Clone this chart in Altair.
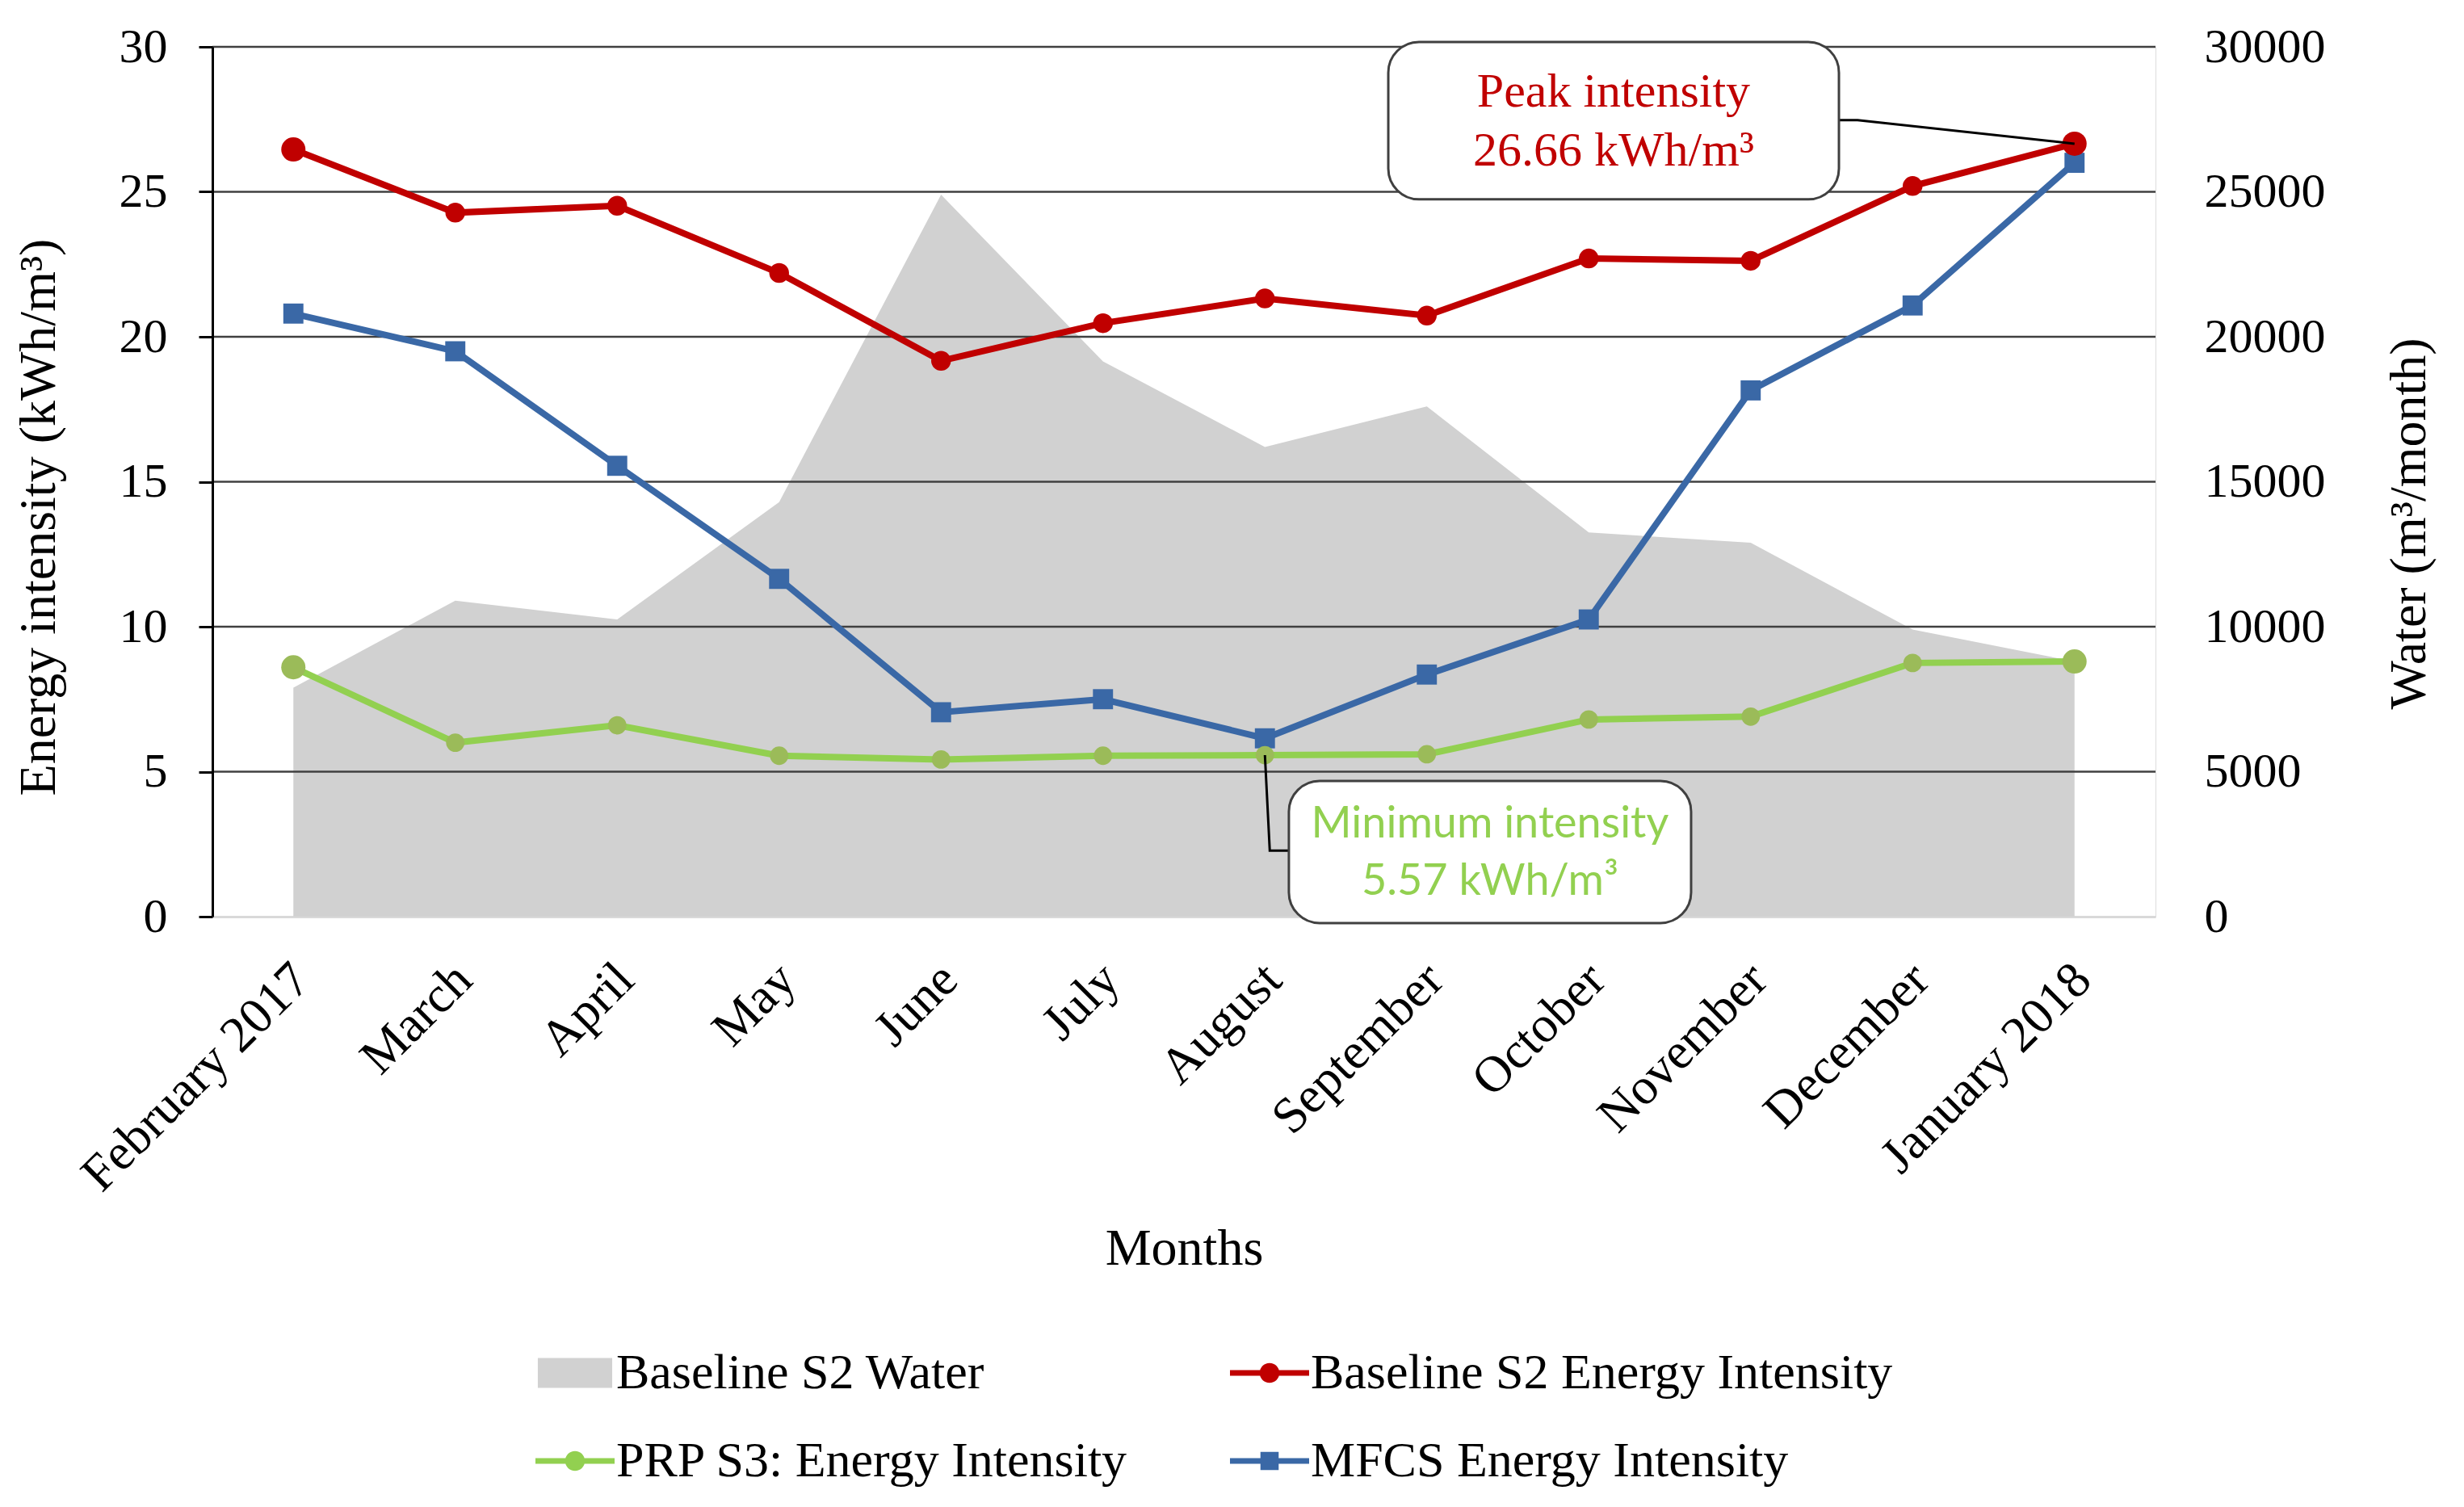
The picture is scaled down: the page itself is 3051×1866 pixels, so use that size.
import json
import altair as alt
import pandas as pd

# ---------------- data ----------------
MONTHS = ["February 2017", "March", "April", "May", "June", "July", "August",
          "September", "October", "November", "December", "January 2018"]
BASELINE_EI = [26.46, 24.28, 24.52, 22.2, 19.17, 20.47, 21.32, 20.73, 22.7, 22.62, 25.2, 26.66]
MFCS_EI = [20.8, 19.5, 15.55, 11.65, 7.05, 7.5, 6.15, 8.35, 10.25, 18.15, 21.08, 26.0]
PRP_EI = [8.6, 6.0, 6.6, 5.55, 5.42, 5.55, 5.57, 5.6, 6.8, 6.9, 8.75, 8.8]
WATER = [7900, 10900, 10250, 14300, 24900, 19150, 16200, 17600, 13250, 12900, 9900, 8800]

# legend entries (listed column by column: the legend fills its 2 columns top-down)
SERIES = ["Baseline S2 Water", "PRP S3: Energy Intensity",
          "Baseline S2 Energy Intensity", "MFCS Energy Intensity"]
COLORS = ["#d1d1d1", "#92d050", "#c00000", "#3a68a6"]
RED, GREEN, BLUE = "#c00000", "#92d050", "#3a68a6"
GREEN_MARKER = "#9bbb59"

LEFT_TICKS = [0, 5, 10, 15, 20, 25, 30]
RIGHT_TICKS = [0, 5000, 10000, 15000, 20000, 25000, 30000]
GRID_LINES = [5, 10, 15, 20, 25, 30]

PEAK_TEXT = ["Peak intensity", "26.66 kWh/m³"]
MIN_TEXT = ["Minimum intensity", "5.57 kWh/m³"]

# annotation geometry (data units: x = month index, y = energy intensity)
BOX_X = [6.762, 6.148]
BOX_X2 = [9.545, 8.632]
BOX_Y = [24.74, -0.22]
BOX_Y2 = [30.17, 4.68]
PEAK_TEXT_X = [8.153, 8.153]
PEAK_TEXT_Y = [27.94, 25.91]
MIN_TEXT_X = [7.39, 7.39]
MIN_TEXT_Y = [2.73, 0.75]
LEADER_X = [9.545, 9.66, 11.0, 6.0, 6.03, 6.148]
LEADER_Y = [27.47, 27.47, 26.66, 5.57, 2.28, 2.28]
LEADER_G = ["peak", "peak", "peak", "min", "min", "min"]

SERIF = "Liberation Serif"
SANS = "Lato"

idx = list(range(len(MONTHS)))
df_water = pd.DataFrame({"x": idx, "water": WATER, "series": SERIES[0]})
df_red = pd.DataFrame({"x": idx, "y": BASELINE_EI})
df_blue = pd.DataFrame({"x": idx, "y": MFCS_EI})
df_green = pd.DataFrame({"x": idx, "y": PRP_EI})
df_grid = pd.DataFrame({"x": [0] * len(GRID_LINES), "y": GRID_LINES})
df_box = pd.DataFrame({"x": BOX_X, "x2": BOX_X2, "y": BOX_Y, "y2": BOX_Y2})
df_peak = pd.DataFrame({"x": PEAK_TEXT_X, "y": PEAK_TEXT_Y, "t": PEAK_TEXT})
df_min = pd.DataFrame({"x": MIN_TEXT_X, "y": MIN_TEXT_Y, "t": MIN_TEXT})
df_lead = pd.DataFrame({"x": LEADER_X, "y": LEADER_Y, "g": LEADER_G,
                        "o": list(range(len(LEADER_X)))})
# legend-key rows (one per series), kept outside the plotting area and clipped
df_key = pd.DataFrame({"series": SERIES, "x": [0] * 4, "y": [-100] * 4})

xscale = alt.Scale(domain=[-0.5, len(MONTHS) - 0.5], nice=False, zero=False)
yscale = alt.Scale(domain=[0, 30], nice=False)
wscale = alt.Scale(domain=[0, 30000], nice=False)

x_axis = alt.Axis(
    values=idx, labelExpr=json.dumps(MONTHS) + "[datum.value]",
    labelAngle=315, labelAlign="right", labelBaseline="top",
    labelPadding=46, labelOffset=-12, labelFlush=False, labelOverlap=False,
    labelFont=SERIF, labelFontSize=63, labelColor="#000000", labelLimit=1000,
    ticks=False, grid=False, domainColor="#d9d9d9", domainWidth=3,
    title="Months", titleFont=SERIF, titleFontSize=64, titleFontWeight="normal",
    titleColor="#000000", titleY=430, titleBaseline="alphabetic",
)
left_axis = alt.Axis(
    orient="left", values=LEFT_TICKS, grid=False,
    domainColor="#000000", domainWidth=3, tickColor="#000000", tickWidth=3, tickSize=17,
    labelFont=SERIF, labelFontSize=60, labelColor="#000000", labelPadding=39,
    labelOverlap=False, labelFlush=False,
    title="Energy intensity (kWh/m³)", titleFont=SERIF, titleFontSize=64,
    titleFontWeight="normal", titleColor="#000000", titleAngle=270,
    titleBaseline="alphabetic", titleX=-196, titleY=582, zindex=1,
)
right_axis = alt.Axis(
    orient="right", values=RIGHT_TICKS, format="d", grid=False, domain=False, ticks=False,
    labelFont=SERIF, labelFontSize=60, labelColor="#000000", labelPadding=60,
    labelOverlap=False, labelFlush=False,
    title="Water  (m³/month)", titleFont=SERIF, titleFontSize=64,
    titleFontWeight="normal", titleColor="#000000", titleAngle=270,
    titleBaseline="alphabetic", titleX=333, titleY=590,
)

P_WATER = "M-0.94,-0.38L0.94,-0.38L0.94,0.38L-0.94,0.38Z"
P_BAR = "M-1,-0.07L1,-0.07L1,0.07L-1,0.07Z"
P_CIRC = "M0.25,0A0.25,0.25,0,1,1,-0.25,0A0.25,0.25,0,1,1,0.25,0Z"
P_SQ = "M-0.23,-0.23L0.23,-0.23L0.23,0.23L-0.23,0.23Z"
KEY_SHAPES = [P_WATER, P_BAR + P_CIRC, P_BAR + P_CIRC, P_BAR + P_SQ]

legend = alt.Legend(
    title=None, orient="none", legendX=400, legendY=1593, columns=2,
    columnPadding=125, rowPadding=29, symbolSize=9604, padding=0,
    symbolOpacity=1, symbolStrokeWidth=0,
    labelFont=SERIF, labelFontSize=62, labelColor="#000000", labelLimit=2000,
    labelOffset=2,
)
color_scale = alt.Scale(domain=SERIES, range=COLORS)

X = alt.X("x:Q", scale=xscale, axis=x_axis)
Y = alt.Y("y:Q", scale=yscale, axis=left_axis)

area = alt.Chart(df_water).mark_area(opacity=1).encode(
    x=X,
    y=alt.Y("water:Q", scale=wscale, axis=right_axis),
    color=alt.Color("series:N", scale=color_scale, legend=legend),
)

grid = alt.Chart(df_grid).mark_rule(color="#404040", strokeWidth=2.7).encode(y=Y)

ends = "datum.x == 0 || datum.x == 11"


def series_layers(df, line_color, marker_color, shape, big, small):
    line = alt.Chart(df).mark_line(color=line_color, strokeWidth=8).encode(x=X, y=Y)
    pts = alt.Chart(df).mark_point(filled=True, shape=shape, color=marker_color,
                                   opacity=1).encode(
        x=X, y=Y, size=alt.condition(ends, alt.value(big), alt.value(small))
    )
    return [line, pts]


blue = series_layers(df_blue, BLUE, BLUE, "square", 620, 620)
green = series_layers(df_green, GREEN, GREEN_MARKER, "circle", 900, 520)
red = series_layers(df_red, RED, RED, "circle", 900, 600)

leaders = alt.Chart(df_lead).mark_line(color="#000000", strokeWidth=3).encode(
    x=X, y=Y, detail="g:N", order="o:Q"
)
boxes = alt.Chart(df_box).mark_rect(fill="white", stroke="#404040", strokeWidth=3,
                                    cornerRadius=38).encode(
    x=X, x2="x2:Q", y=Y, y2="y2:Q"
)
peak_txt = alt.Chart(df_peak).mark_text(font=SERIF, fontSize=60, color=RED,
                                        align="center", baseline="alphabetic").encode(
    x=X, y=Y, text="t:N"
)
min_txt = alt.Chart(df_min).mark_text(font=SANS, fontSize=54, color=GREEN,
                                      align="center", baseline="alphabetic").encode(
    x=X, y=Y, text="t:N"
)
keys = alt.Chart(df_key).mark_point(filled=True, opacity=1, clip=True).encode(
    x=X, y=Y,
    color=alt.Color("series:N", scale=color_scale, legend=legend),
    shape=alt.Shape("series:N", scale=alt.Scale(domain=SERIES, range=KEY_SHAPES),
                    legend=legend),
)

inner = alt.layer(grid, *blue, *green, *red, leaders, boxes, peak_txt, min_txt, keys)

chart = (
    alt.layer(area, inner)
    .resolve_scale(y="independent")
    .properties(
        width=2406, height=1077,
        autosize=alt.AutoSizeParams(type="none"),
        padding={"left": 255, "top": 50, "right": 374, "bottom": 723},
    )
    .configure_view(strokeWidth=0, stroke="transparent")
    .configure(font=SERIF)
)

chart.save("out.html", embed_options={"renderer": "svg", "actions": False})
